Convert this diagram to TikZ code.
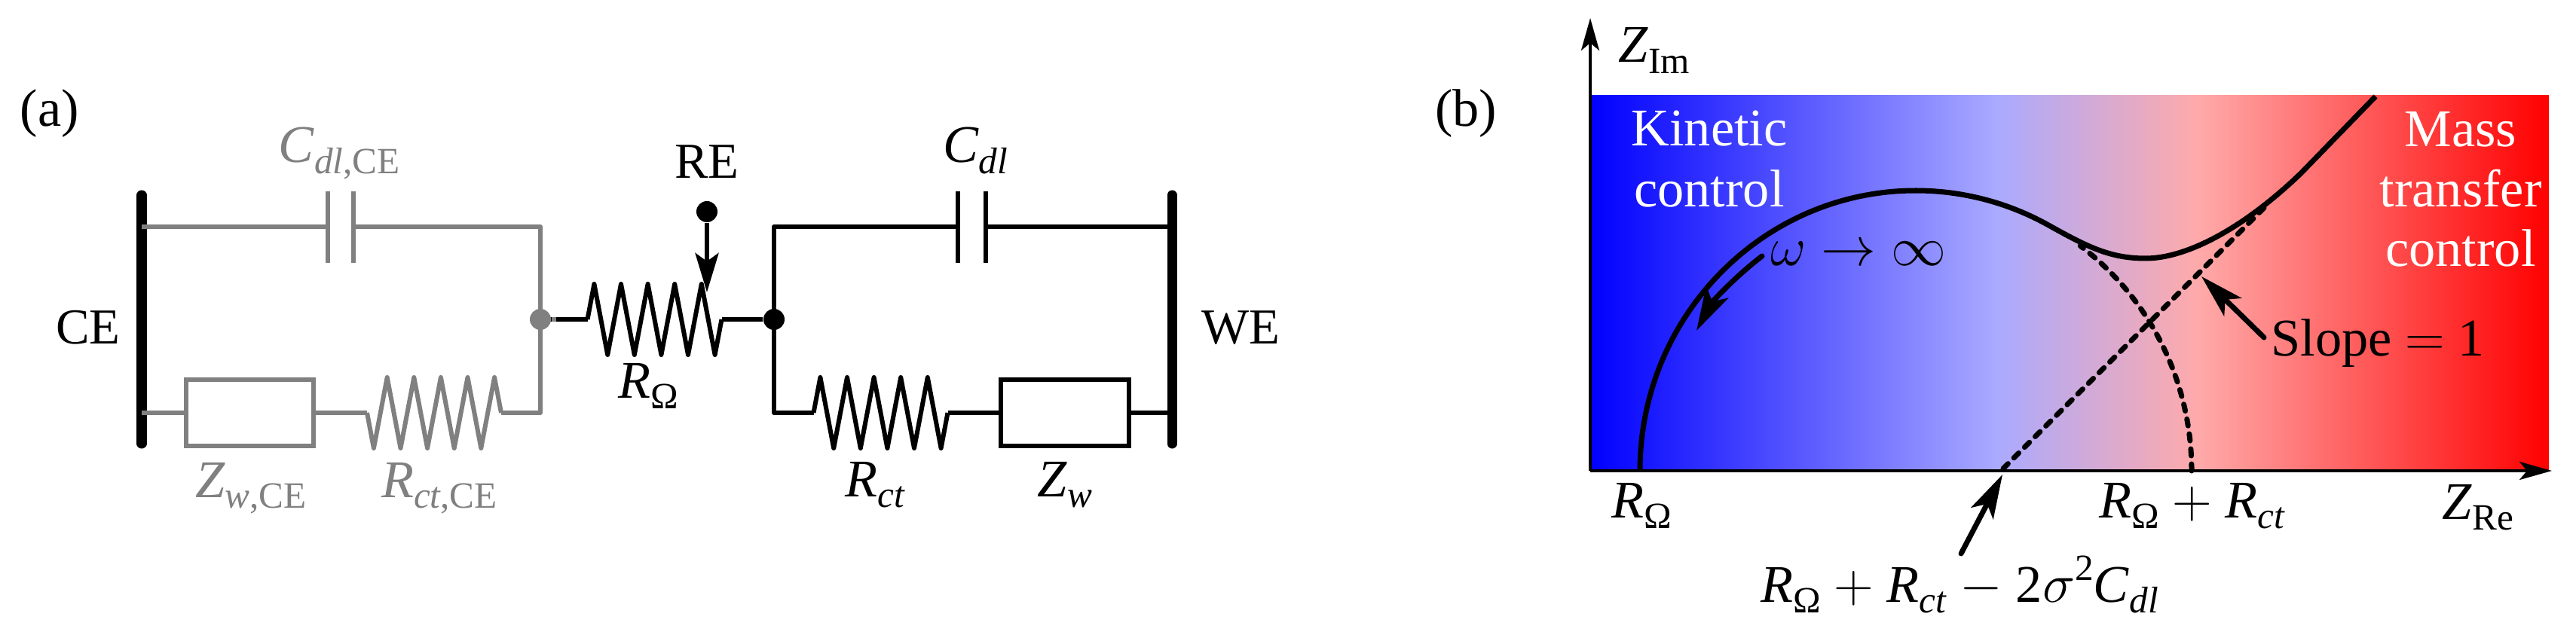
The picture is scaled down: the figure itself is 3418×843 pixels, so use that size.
\documentclass[tikz,border=0pt]{standalone}
\usepackage{fontspec}
\setmainfont{Liberation Serif}
\usetikzlibrary{arrows.meta}
\definecolor{gr}{HTML}{808080}
\definecolor{sblue}{RGB}{0,0,255}
\definecolor{slb}{RGB}{170,170,255}
\definecolor{slr}{RGB}{255,170,170}
\definecolor{sred}{RGB}{255,0,0}
\newcommand{\sbs}[1]{\raisebox{-4pt}{\fontsize{14}{14}\selectfont #1}}
\newcommand{\sps}[1]{\raisebox{8pt}{\fontsize{14}{14}\selectfont #1}}
\pgfdeclarehorizontalshading{plotgrad}{100bp}{
  color(0bp)=(sblue);
  color(25bp)=(sblue);
  color(46.2bp)=(slb);
  color(56.7bp)=(slr);
  color(75bp)=(sred);
  color(100bp)=(sred)}
\tikzset{
  x=0.01cm,y=-0.01cm,
  lbl/.style={font=\fontsize{20}{24}\selectfont,inner sep=0pt,anchor=base},
  capl/.style={font=\fontsize{19}{24}\selectfont,inner sep=0pt,anchor=base},
  wire/.style={line width=0.06cm,line join=round},
  bar/.style={line width=0.13cm,line cap=round},
  dot/.style={circle,fill,inner sep=0pt,minimum size=0.28cm,draw=none},
  zbox/.style={draw,line width=0.06cm,inner sep=0pt,outer sep=0pt,minimum width=1.69cm,minimum height=0.88cm},
  axis/.style={line width=0.04cm,-{Stealth[length=4.3mm,width=2.4mm,inset=1mm]}},
  pointer/.style={line width=0.07cm,line cap=round,-{Stealth[length=5.8mm,width=3.3mm,inset=1.4mm]}},
  repointer/.style={line width=0.06cm,-{Stealth[length=5.2mm,width=3.1mm,inset=1.1mm]}},
  curve/.style={line width=0.07cm,line join=round},
  dashcurve/.style={line width=0.07cm,line cap=round,dash pattern=on 0.09cm off 0.11cm},
  resistor/.pic={\draw[wire] (0,0) -- ++(8.9,-47) -- ++(17.8,94) -- ++(17.8,-94) -- ++(17.8,94) -- ++(17.8,-94) -- ++(17.8,94) -- ++(17.8,-94) -- ++(17.8,94) -- ++(17.8,-94) -- ++(17.8,94) -- ++(8.9,-47);}
}
\begin{document}
\begin{tikzpicture}
\useasboundingbox (0,0) rectangle (3418,843);
% panel labels
\node[lbl] (la) at (66,168) {(a)};
\node[lbl] (lb) at (1945,168) {(b)};
% ---- black circuit
\coordinate (ce1) at (188,259);\coordinate (ce2) at (188,589);
\coordinate (we1) at (1555,259);\coordinate (we2) at (1555,589);
\draw[bar] (ce1) -- (ce2);
\draw[bar] (we1) -- (we2);
\node[dot] (jr) at (1027,424) {};
\node[zbox] (bz) at (1413,548) {};
\coordinate (c1t) at (1271,254);\coordinate (c1b) at (1271,349);
\coordinate (c2t) at (1308,254);\coordinate (c2b) at (1308,349);
\coordinate (jl0) at (717,424);
\coordinate (r1l) at (779.5,424);
\coordinate (r1r) at (957.5,424);
\coordinate (r2l) at (1079.5,548);
\coordinate (r2r) at (1257.5,548);
\coordinate (wt) at (1555,301);
\coordinate (wb) at (1555,548);
\draw[wire] (jl0) -- (r1l);
\path (r1l) pic {resistor};
\draw[wire] (r1r) -- (jr);
\draw[wire] (c1t) -- (c1b);
\draw[wire] (c2t) -- (c2b);
\draw[wire] (c1t |- wt) -- (jr |- wt) -- (jr |- wb) -- (r2l);
\path (r2l) pic {resistor};
\draw[wire] (r2r) -- (bz.west);
\draw[wire] (bz.east) -- (wb);
\draw[wire] (c2t |- wt) -- (wt);
\node[dot] (re) at (938,281) {};
\coordinate (retip) at (938,388);
\draw[repointer] (re) -- (retip);
\node[capl] (lre) at (938,237) {RE};
\node[capl] (lce) at (117,456) {CE};
\node[capl] (lwe) at (1646,456) {WE};
\node[lbl] (lro) at (860,528) {\textit{R}\sbs{Ω}};
\node[lbl] (lrc) at (1161,659) {\textit{R}\sbs{\textit{ct}}};
\node[lbl] (lzw) at (1413,659) {\textit{Z}\sbs{\textit{w}}};
\node[lbl] (lcd) at (1294,216) {\textit{C}\sbs{\textit{dl}}};
% ---- counter electrode (grey)
\begin{scope}[gr]
\coordinate (ctl) at (188,301);
\coordinate (cbl) at (188,548);
\coordinate (gtr) at (717,301);
\coordinate (gbr) at (717,548);
\coordinate (gc1t) at (435,254);\coordinate (gc1b) at (435,349);
\coordinate (gc2t) at (469,254);\coordinate (gc2b) at (469,349);
\coordinate (r3l) at (487,548);
\coordinate (r3r) at (665,548);
\coordinate (stub) at (738,424);
\node[zbox] (gz) at (331.5,548) {};
\node[dot] (jl) at (717,424) {};
\draw[wire] (jl) -- (stub);
\draw[wire] (ctl) -- (gc1t |- ctl);
\draw[wire] (gc2t |- ctl) -- (gtr) -- (gbr) -- (r3r);
\draw[wire] (gc1t) -- (gc1b);
\draw[wire] (gc2t) -- (gc2b);
\draw[wire] (cbl) -- (gz.west);
\draw[wire] (gz.east) -- (r3l);
\path (r3l) pic[yscale=-1] {resistor};
\node[lbl] (lcg) at (450,216) {\textit{C}\sbs{\textit{dl},CE}};
\node[lbl] (lzg) at (333,660) {\textit{Z}\sbs{\textit{w},CE}};
\node[lbl] (lrg) at (583,660) {\textit{R}\sbs{\textit{ct},CE}};
\end{scope}
% ---- Nyquist plot
\shade[shading=plotgrad] (2110,127) rectangle (3382,625);
\coordinate (orig) at (2110,625);
\coordinate (ytip) at (2110,24);
\coordinate (xtip) at (3386,625);
\draw[axis] (orig) -- (ytip);
\draw[axis] (orig) -- (xtip);
\draw[curve] (2176,625) arc[start angle=180,end angle=298.6,x radius=366,y radius=372]
  .. controls (2770,328) and (2800,343) .. (2847,343)
  .. controls (2900,343) and (2975,305) .. (3053,230) -- (3152,128);
\draw[dashcurve] (2908,625) arc[start angle=360,end angle=306.6,x radius=366,y radius=372];
\coordinate (t1) at (2658,622);
\coordinate (t2) at (3007,273);
\draw[dashcurve] (t1) -- (t2);
\node[lbl,white] (k1) at (2268,194) {Kinetic};
\node[lbl,white] (k2) at (2268,275) {control};
\node[lbl,white] (m1) at (3265,195) {Mass};
\node[lbl,white] (m2) at (3265,275) {transfer};
\node[lbl,white] (m3) at (3265,354) {control};
\node[lbl] (lw) at (2466,353) {$\omega\rightarrow\infty$};
\coordinate (wa) at (2338,340);
\coordinate (wz) at (2251,439);
\draw[pointer] (wa) .. controls (2305,365) and (2272,400) .. (wz);
\node[lbl,anchor=base west] (ls) at (3013,472) {Slope $=$ 1};
\coordinate (sa) at (3004,448);
\coordinate (sb) at (2921,367);
\draw[pointer] (sa) -- (sb);
\node[lbl] (lzi) at (2195,83) {\textit{Z}\sbs{Im}};
\node[lbl] (lzr) at (3288,689) {\textit{Z}\sbs{Re}};
\node[lbl] (lr0) at (2178,687) {\textit{R}\sbs{Ω}};
\node[lbl] (lr1) at (2909,687) {\textit{R}\sbs{Ω} $+$ \textit{R}\sbs{\textit{ct}}};
\node[lbl] (lr2) at (2600,799) {\textit{R}\sbs{Ω} $+$ \textit{R}\sbs{\textit{ct}} $-$ 2$\sigma$\sps{2}\textit{C}\sbs{\textit{dl}}};
\coordinate (la2) at (2602,735);
\coordinate (lb2) at (2657,630);
\draw[pointer] (la2) -- (lb2);
\end{tikzpicture}
\end{document}
